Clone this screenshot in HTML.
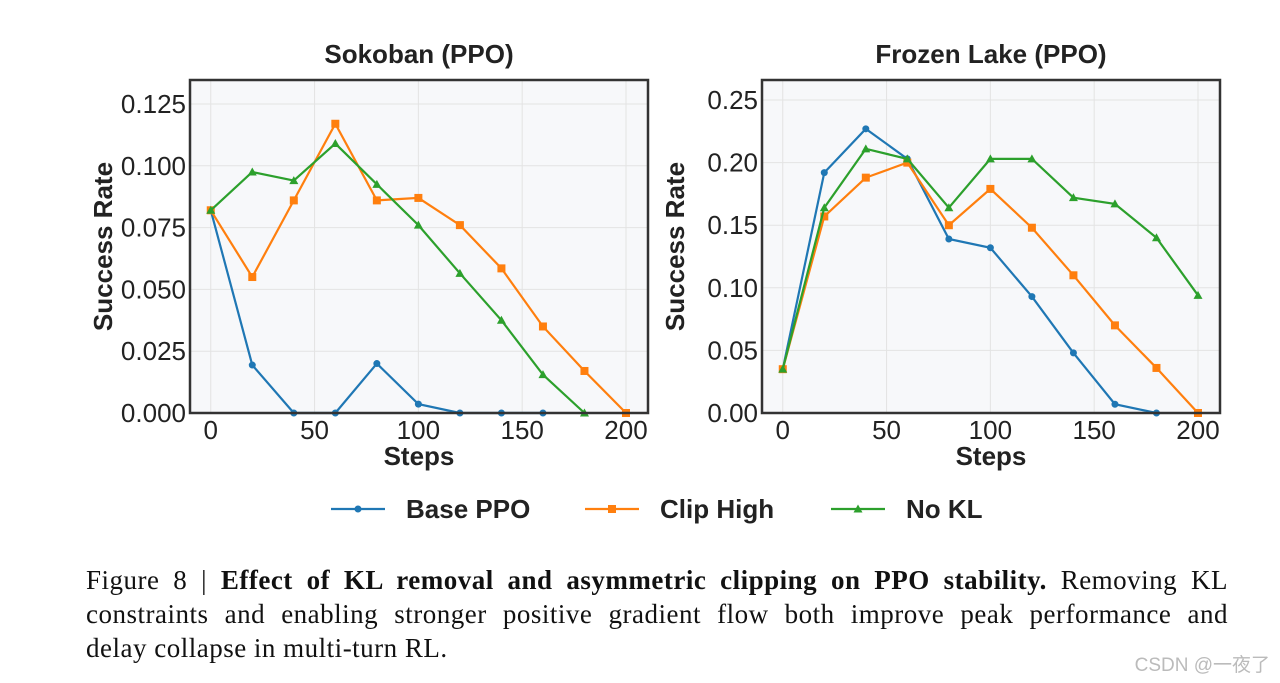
<!DOCTYPE html>
<html><head><meta charset="utf-8"><style>
body{margin:0;background:#fff;width:1280px;height:683px;overflow:hidden;position:relative}
svg text{font-family:"Liberation Sans",sans-serif}
.cap{position:absolute;left:86px;top:563px;width:1142px;font-family:"Liberation Serif",serif;font-size:27px;letter-spacing:0.5px;line-height:34px;color:#111}
.cap span{display:block;text-align:justify;text-align-last:justify;white-space:nowrap}
.cap span.last{text-align-last:left}
.wm{position:absolute;right:10px;top:650px;font-family:"Liberation Sans","Noto Sans CJK SC",sans-serif;font-size:19px;color:#bbb}
</style></head><body>
<svg id="chart" width="1280" height="560"></svg>
<div class="cap"><span>Figure 8 | <b>Effect of KL removal and asymmetric clipping on PPO stability.</b> Removing KL</span><span>constraints and enabling stronger positive gradient flow both improve peak performance and</span><span class="last">delay collapse in multi-turn RL.</span></div>
<div class="wm">CSDN @一夜了</div>
<script>
const steps=[0,20,40,60,80,100,120,140,160,180,200];
const sokBase=[0.082,0.0194,0,0,0.020,0.0036,0,0,0];
const sokClip=[0.082,0.055,0.086,0.117,0.086,0.087,0.076,0.0585,0.035,0.017,0];
const sokNoKL=[0.082,0.0975,0.094,0.109,0.0925,0.076,0.0565,0.0375,0.0155,0];
const flBase=[0.035,0.192,0.227,0.203,0.139,0.132,0.093,0.048,0.007,0];
const flClip=[0.035,0.157,0.188,0.2,0.15,0.179,0.148,0.11,0.07,0.036,0];
const flNoKL=[0.035,0.164,0.211,0.203,0.164,0.203,0.203,0.172,0.167,0.14,0.094];
const sokTicks=[0,0.025,0.05,0.075,0.1,0.125];
const sokTickLabels=["0.000","0.025","0.050","0.075","0.100","0.125"];
const flTicks=[0,0.05,0.1,0.15,0.2,0.25];
const flTickLabels=["0.00","0.05","0.10","0.15","0.20","0.25"];
const xTicks=[0,50,100,150,200];
const colors=["#1f77b4","#ff7f0e","#2ca02c"];
const names=["Base PPO","Clip High","No KL"];
const NS="http://www.w3.org/2000/svg";
const svg=document.getElementById('chart');
function mk(t,a,p){const e=document.createElementNS(NS,t);for(const k in a)e.setAttribute(k,a[k]);(p||svg).appendChild(e);return e;}
function marker(g,kind,x,y,c){
 let m;
 if(kind===0){m=mk('circle',{cx:x,cy:y,r:3.5,fill:c},g);}
 else if(kind===1){m=mk('rect',{x:x-4,y:y-4,width:8,height:8,fill:c},g);}
 else{m=mk('polygon',{points:`${x},${y-4.5} ${x-4.5},${y+3.5} ${x+4.5},${y+3.5}`,fill:c},g);}
 
 
}
function panel(L,R,title,ymax,ticks,labels,series,key){
 const T=80,B=413,xmin=-10,xmax=210.6;
 const X=v=>L+(v-xmin)/(xmax-xmin)*(R-L), Y=v=>B-v/ymax*(B-T);
 const g=mk('g',{});
 mk('rect',{x:L,y:T,width:R-L,height:B-T,fill:'#f7f8fa'},g);
 xTicks.forEach(v=>{mk('line',{x1:X(v),x2:X(v),y1:T,y2:B,stroke:'#e3e3e3','stroke-width':1},g);
  const t=mk('text',{x:X(v),y:B+26,'text-anchor':'middle','font-size':26,fill:'#222'},g);t.textContent=v;
  });
 ticks.forEach((v,i)=>{mk('line',{x1:L,x2:R,y1:Y(v),y2:Y(v),stroke:'#e3e3e3','stroke-width':1},g);
  const t=mk('text',{x:L-4,y:Y(v)+9,'text-anchor':'end','font-size':26,fill:'#222'},g);t.textContent=labels[i];
  });
 series.forEach((s,i)=>{const pts=s.map((v,j)=>X(steps[j])+','+Y(v)).join(' ');
  const sg=mk('g',{},g);
  mk('polyline',{points:pts,fill:'none',stroke:colors[i],'stroke-width':2.2},sg);
  s.forEach((v,j)=>marker(sg,i,X(steps[j]),Y(v),colors[i]));});
 mk('rect',{x:L,y:T,width:R-L,height:B-T,fill:'none',stroke:'#333','stroke-width':2.5},g);
 const tt=mk('text',{x:(L+R)/2,y:63,'text-anchor':'middle','font-size':26,'font-weight':'bold',fill:'#222'},g);tt.textContent=title;
 
 const xl=mk('text',{x:(L+R)/2,y:465,'text-anchor':'middle','font-size':26,'font-weight':'bold',fill:'#222'},g);xl.textContent='Steps';
 
 const yx=L-78;
 const yl=mk('text',{x:yx,y:(T+B)/2,'text-anchor':'middle','font-size':26,'font-weight':'bold',fill:'#222',transform:`rotate(-90 ${yx} ${(T+B)/2})`},g);yl.textContent='Success Rate';
 
}
panel(190,648,'Sokoban (PPO)',0.1347,sokTicks,sokTickLabels,[sokBase,sokClip,sokNoKL],'sokoban');
panel(762,1220,'Frozen Lake (PPO)',0.266,flTicks,flTickLabels,[flBase,flClip,flNoKL],'frozen-lake');
const lx=[331,585,831];
names.forEach((n,i)=>{const g=mk('g',{});
 mk('line',{x1:lx[i],x2:lx[i]+54,y1:509,y2:509,stroke:colors[i],'stroke-width':2.2},g);
 marker(g,i,lx[i]+27,509,colors[i]);
 const t=mk('text',{x:lx[i]+75,y:518,'font-size':26,'font-weight':'bold',fill:'#222'},g);t.textContent=n;});
</script>
</body></html>
